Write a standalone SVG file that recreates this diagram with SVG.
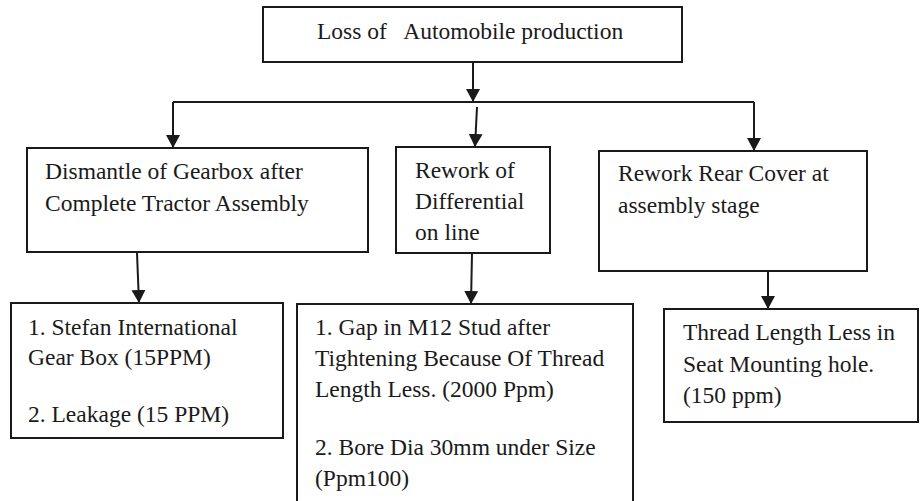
<svg xmlns="http://www.w3.org/2000/svg" width="920" height="501" viewBox="0 0 920 501">
<style>
.box{fill:#fff;stroke:#1a1a1a;stroke-width:2}
.t{font-family:"Liberation Serif","Times New Roman",serif;font-size:23.5px;fill:#1a1a1a;white-space:pre}
.c{stroke:#1a1a1a;stroke-width:2;fill:none}
</style>
<defs>
<marker id="ah" markerUnits="userSpaceOnUse" markerWidth="14" markerHeight="14" refX="13" refY="7" orient="auto">
<path d="M0,0 L13,7 L0,14 z" fill="#1a1a1a"/>
</marker>
</defs>
<rect width="920" height="501" fill="#fff"/>
<g id="connectors">
<line class="c" x1="473" y1="62" x2="473" y2="102" marker-end="url(#ah)"/>
<line class="c" x1="173" y1="102" x2="754" y2="102"/>
<line class="c" x1="173" y1="102" x2="173" y2="148" marker-end="url(#ah)"/>
<line class="c" x1="477" y1="107" x2="475" y2="147" marker-end="url(#ah)"/>
<line class="c" x1="754" y1="102" x2="754" y2="151" marker-end="url(#ah)"/>
<line class="c" x1="137" y1="253" x2="139" y2="303" marker-end="url(#ah)"/>
<line class="c" x1="472" y1="253" x2="471" y2="304" marker-end="url(#ah)"/>
<line class="c" x1="768" y1="271" x2="768" y2="309" marker-end="url(#ah)"/>
</g>
<g id="top">
<rect class="box" x="263" y="7" width="419" height="55"/>
<text class="t" x="317" y="39" xml:space="preserve">Loss of&#160;&#160; Automobile production</text>
</g>
<g id="dismantle">
<rect class="box" x="27" y="148" width="341" height="104"/>
<text class="t" x="45" y="179">Dismantle of Gearbox after</text>
<text class="t" x="45" y="211">Complete Tractor Assembly</text>
</g>
<g id="rework-diff">
<rect class="box" x="396" y="147" width="154" height="106"/>
<text class="t" x="415" y="178">Rework of</text>
<text class="t" x="415" y="209">Differential</text>
<text class="t" x="415" y="240">on line</text>
</g>
<g id="rear-cover">
<rect class="box" x="599" y="151" width="268" height="120"/>
<text class="t" x="618" y="181">Rework Rear Cover at</text>
<text class="t" x="618" y="213">assembly stage</text>
</g>
<g id="gearbox-causes">
<rect class="box" x="11" y="303" width="272" height="135"/>
<text class="t" x="28" y="335">1. Stefan International</text>
<text class="t" x="28" y="365">Gear Box (15PPM)</text>
<text class="t" x="28" y="422">2. Leakage (15 PPM)</text>
</g>
<g id="diff-causes">
<rect class="box" x="297" y="304" width="336" height="210"/>
<text class="t" x="315" y="335">1. Gap in M12 Stud after</text>
<text class="t" x="315" y="366">Tightening Because Of Thread</text>
<text class="t" x="315" y="397">Length Less. (2000 Ppm)</text>
<text class="t" x="315" y="455">2. Bore Dia 30mm under Size</text>
<text class="t" x="315" y="486">(Ppm100)</text>
</g>
<g id="rear-causes">
<rect class="box" x="664" y="309" width="254" height="113"/>
<text class="t" x="683" y="340">Thread Length Less in</text>
<text class="t" x="683" y="372">Seat Mounting hole.</text>
<text class="t" x="683" y="403">(150 ppm)</text>
</g>
</svg>
